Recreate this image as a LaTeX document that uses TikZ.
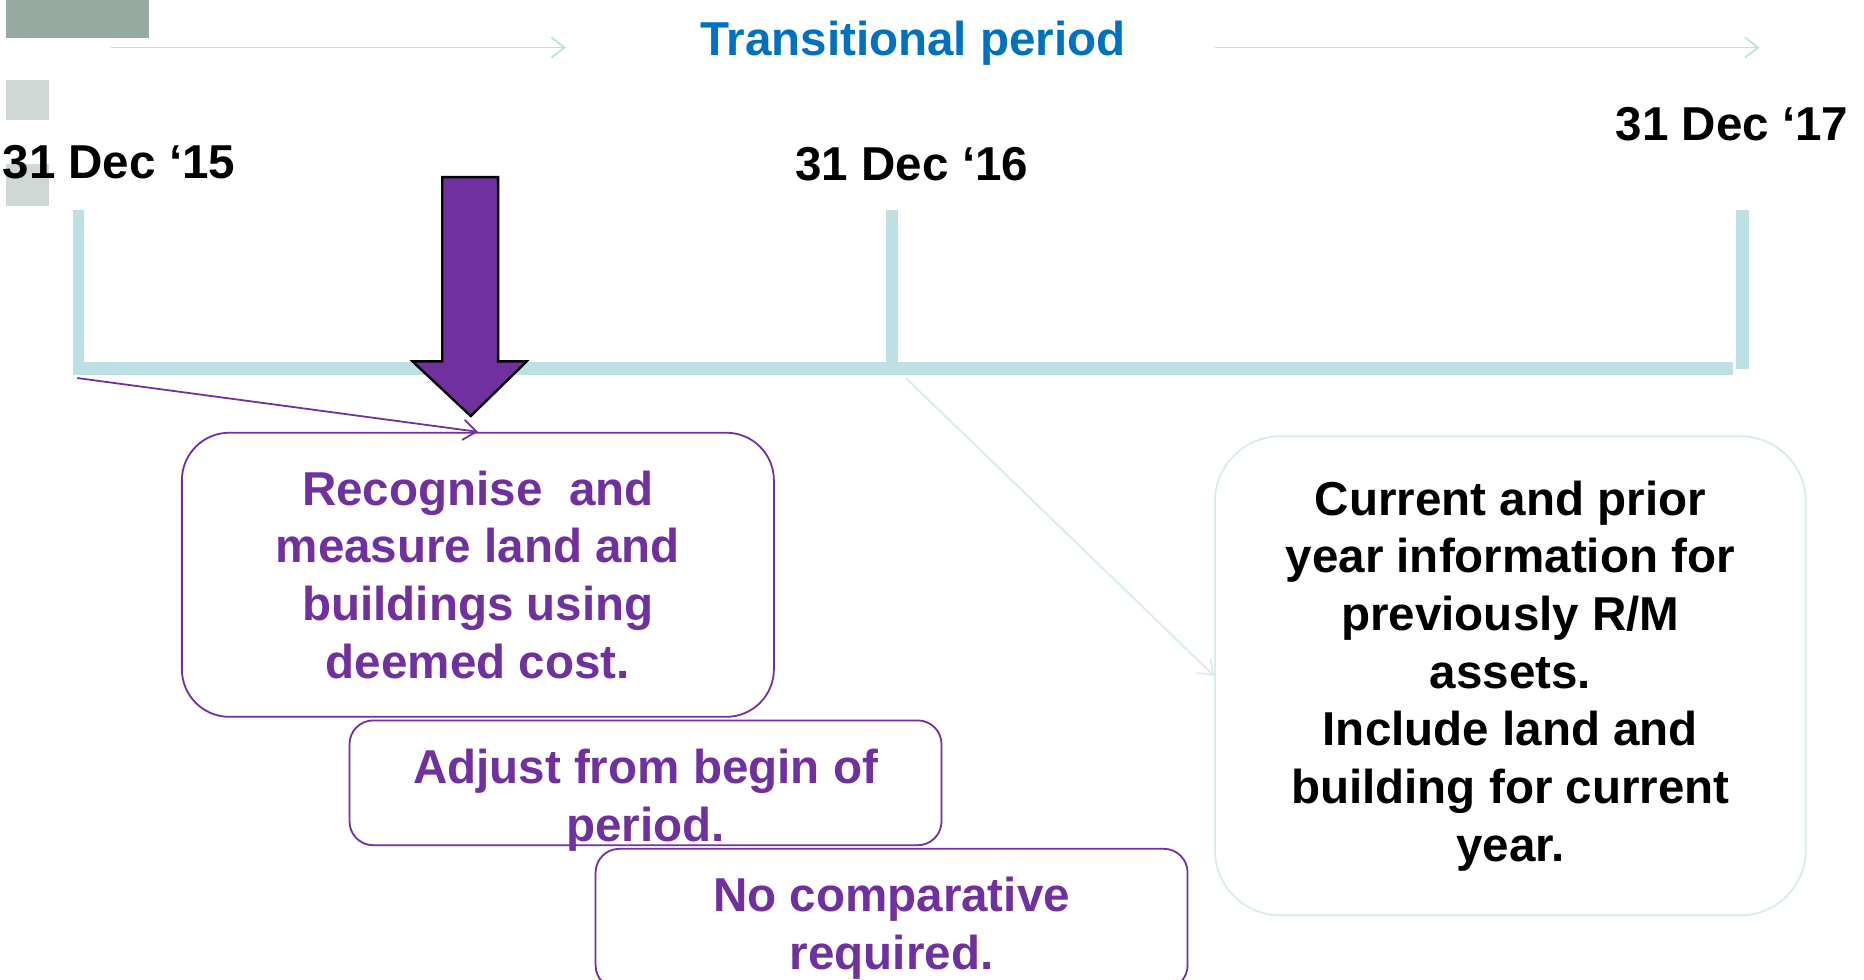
\documentclass[tikz,border=0pt]{standalone}
\usepackage{fontspec}
\setmainfont{Liberation Sans}
\usetikzlibrary{arrows.meta}
\definecolor{tealbar}{HTML}{BCE0E3}
\definecolor{lightteal}{HTML}{D6ECEE}
\definecolor{purp}{HTML}{7030A0}
\definecolor{blu}{HTML}{0070C0}
\definecolor{grayA}{HTML}{97AAA2}
\definecolor{grayB}{HTML}{D0D8D5}
\tikzset{
  big/.style={font=\bfseries\fontsize{40}{48.5}\selectfont, inner sep=0pt},
  datelbl/.style={big, text=black},
  ptext/.style={big, text=purp, align=center},
  pbox/.style={draw=purp, line width=1.5pt, minimum width=498pt, inner sep=0pt},
  barb/.style={-{Straight Barb[length=11pt,width=17pt]}, line width=1.4pt},
  bar/.style={fill=tealbar, draw=none}
}
\begin{document}
\begin{tikzpicture}[x=1pt,y=-1pt]
\clip (0,0) rectangle (1568,824);
\fill[white] (0,0) rectangle (1568,824);
% decorative squares
\fill[grayA] (5,0) rectangle (125,32);
\fill[grayB] (5,67) rectangle (41,101);
\fill[grayB] (5,138) rectangle (41,173);
% top arrows and title
\coordinate (t1a) at (93,40);
\coordinate (t1b) at (476,40);
\coordinate (t2a) at (1022,40);
\coordinate (t2b) at (1480,40);
\draw[barb, tealbar] (t1a) -- (t1b);
\draw[barb, tealbar] (t2a) -- (t2b);
\node[big, text=blu, anchor=base] (title) at (768,47) {Transitional period};
% dates
\node[datelbl, anchor=base west] (d15) at (2,150) {31 Dec ‘15};
\node[datelbl, anchor=base west] (d16) at (669,152) {31 Dec ‘16};
\node[datelbl, anchor=base east] (d17) at (1555,118) {31 Dec ‘17};
% timeline
\fill[bar] (61,177) rectangle (71,315.5);
\fill[bar] (65,304.5) rectangle (1458,315.5);
\fill[bar] (745,177) rectangle (755,305);
\fill[bar] (1460,177) rectangle (1471,310);
% big down arrow
\draw[fill=purp, draw=black, line width=2pt, line join=miter]
  (372,149) -- (419,149) -- (419,304) -- (443,304) -- (396,350) -- (347,304) -- (372,304) -- cycle;
% boxes
\node[pbox, minimum height=239pt, rounded corners=40pt, ptext] (b1) at (402,483.5)
  {Recognise\ \ and\\measure land and\\buildings using\\deemed cost.};
\node[pbox, minimum height=105pt, rounded corners=20pt] (b2) at (543,658.5) {};
\node[ptext] (b2t) at (543,673) {Adjust from begin of\\period.};
\node[pbox, minimum height=118pt, rounded corners=20pt] (b3) at (750,773) {};
\node[ptext] (b3t) at (750,781) {No comparative\\required.};
\node[draw=lightteal, line width=1.5pt, minimum width=497pt, minimum height=403pt,
  rounded corners=55pt, big, align=center, inner sep=0pt] (b4) at (1270.5,568.5)
  {Current and prior\\year information for\\previously R/M\\assets.\\Include land and\\building for current\\year.};
% connectors
\coordinate (s15) at (65,318);
\coordinate (s16) at (762,318);
\draw[barb, purp, line width=1.5pt] (s15) -- (b1.north);
\draw[barb, lightteal, line width=1.5pt] (s16) -- (b4.west);
\end{tikzpicture}
\end{document}
